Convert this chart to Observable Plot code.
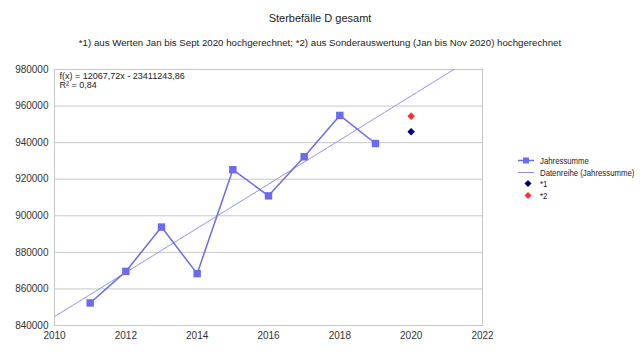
<!DOCTYPE html>
<html>
<head>
<meta charset="utf-8">
<script src="https://cdn.jsdelivr.net/npm/d3@7"></script>
<script src="https://cdn.jsdelivr.net/npm/@observablehq/plot@0.6"></script>
<style>
  body { margin: 0; background: #fff; font-family: "Liberation Sans", Arial, sans-serif; }
  #wrap { position: relative; width: 640px; height: 357px; }
  .t { position: absolute; left: 0; width: 640px; text-align: center; color: #222; white-space: nowrap; }
  #legend { position: absolute; left: 514px; top: 155px; font-size: 9.5px; color: #222; white-space: nowrap; }
  #legend .row { height: 11.5px; display: flex; align-items: center; }
  #legend svg { width: 24px; height: 11px; margin-right: 2px; flex: none; }
  #legend span { display: inline-block; transform: scaleX(0.82); transform-origin: left center; }
</style>
</head>
<body>
<div id="wrap">
  <div class="t" style="top:12px;font-size:11px;">Sterbefälle D gesamt</div>
  <div class="t" style="top:37px;font-size:9.7px;">*1) aus Werten Jan bis Sept 2020 hochgerechnet; *2) aus Sonderauswertung (Jan bis Nov 2020) hochgerechnet</div>
  <div id="chart"></div>
  <div id="legend">
    <div class="row"><svg><line x1="4" x2="20" y1="5.5" y2="5.5" stroke="#6b6bf0" stroke-width="1.5"/><rect x="9" y="2.5" width="6" height="6" fill="#6b6bf0"/></svg><span>Jahressumme</span></div>
    <div class="row"><svg><line x1="4" x2="20" y1="5.5" y2="5.5" stroke="#8f8fe8" stroke-width="1"/></svg><span>Datenreihe (Jahressumme)</span></div>
    <div class="row"><svg><path d="M14,2 L17.5,5.5 L14,9 L10.5,5.5 Z" fill="#00007a"/></svg><span>*1</span></div>
    <div class="row"><svg><path d="M14,2 L17.5,5.5 L14,9 L10.5,5.5 Z" fill="#ff3030"/></svg><span>*2</span></div>
  </div>
</div>
<script>
const years = [2011, 2012, 2013, 2014, 2015, 2016, 2017, 2018, 2019];
const deaths = [852328, 869582, 893825, 868356, 925200, 910899, 932263, 954874, 939520];
const est1Year = [2020];
const est1Value = [946000];
const est2Year = [2020];
const est2Value = [954500];
const trendSlope = 12067.72;
const trendIntercept = -23411243.86;
const trendText = "f(x) = 12067,72x - 23411243,86\nR² = 0,84";
const xTicks = [2010, 2012, 2014, 2016, 2018, 2020, 2022];
const yTicks = [840000, 860000, 880000, 900000, 920000, 940000, 960000, 980000];

const series = years.map((y, i) => ({year: y, value: deaths[i]}));
const est1 = est1Year.map((y, i) => ({year: y, value: est1Value[i]}));
const est2 = est2Year.map((y, i) => ({year: y, value: est2Value[i]}));
const trendXs = d3.range(2010, 2022.001, 0.05);
const trend = trendXs.map(x => ({year: x, value: trendSlope * x + trendIntercept}));

const chart = Plot.plot({
  width: 640,
  height: 357,
  marginLeft: 54,
  marginRight: 158,
  marginTop: 69,
  marginBottom: 32,
  style: {fontFamily: "Liberation Sans, Arial, sans-serif", fontSize: "10px", color: "#333", background: "transparent"},
  x: {domain: [2010, 2022], ticks: xTicks, tickFormat: d => String(d), tickSize: 0, tickPadding: 6, label: null},
  y: {domain: [840000, 980000], ticks: yTicks, tickFormat: d => String(d), tickSize: 0, tickPadding: 6, label: null},
  marks: [
    Plot.gridY(yTicks, {stroke: "#c8c8c8", strokeOpacity: 1}),
    Plot.frame({stroke: "#c8c8c8"}),
    Plot.axisX({ticks: xTicks, tickFormat: d => String(d), tickSize: 0, tickPadding: 6, fill: "#333"}),
    Plot.axisY({ticks: yTicks, tickFormat: d => String(d), tickSize: 0, tickPadding: 6, fill: "#333"}),
    Plot.line(trend, {x: "year", y: "value", stroke: "#8f8fe8", strokeWidth: 1, clip: true}),
    Plot.line(series, {x: "year", y: "value", stroke: "#6b6bf0", strokeWidth: 1.5}),
    Plot.dot(series, {x: "year", y: "value", symbol: "square", r: 4.2, fill: "#6b6bf0", stroke: "none"}),
    Plot.dot(est1, {x: "year", y: "value", symbol: "diamond2", r: 3.4, fill: "#00007a", stroke: "none"}),
    Plot.dot(est2, {x: "year", y: "value", symbol: "diamond2", r: 3.4, fill: "#ff3030", stroke: "none"}),
    Plot.text([trendText], {frameAnchor: "top-left", dx: 5, dy: 2, lineAnchor: "top", textAnchor: "start", fontSize: 9, fill: "#222", lineHeight: 1.1})
  ]
});
document.getElementById("chart").appendChild(chart);
</script>
</body>
</html>
